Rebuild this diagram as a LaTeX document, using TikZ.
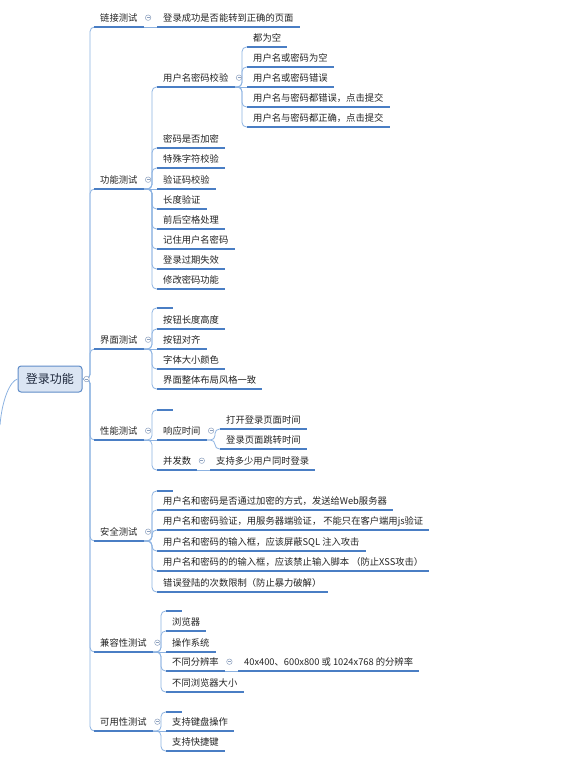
\documentclass[tikz,border=0pt]{standalone}
\usepackage{fontspec}
\newfontfamily\cjk{Noto Sans CJK SC}
\definecolor{ulc}{RGB}{74,126,196}
\definecolor{connc}{RGB}{140,178,225}
\definecolor{cgray}{RGB}{140,160,190}
\definecolor{txt}{RGB}{35,35,35}
\definecolor{rootfill}{RGB}{219,229,243}
\definecolor{rootline}{RGB}{95,140,200}
\definecolor{rtxt}{RGB}{30,40,60}
\begin{document}
\begin{tikzpicture}[x=1pt,y=-1pt,
  topic/.style={font=\cjk\fontsize{9.3}{11}\selectfont, text=txt, anchor=south west,
    inner xsep=6pt, inner ysep=0pt, text height=8pt, text depth=5.8pt},
  stub/.style={topic, minimum width=16pt},
  rootbox/.style={draw=rootline, fill=rootfill, line width=1pt, rounded corners=3pt,
    minimum width=64pt, minimum height=26pt, inner sep=0pt,
    font=\cjk\fontsize{12}{14}\selectfont, text=rtxt},
  conn/.style={draw=connc, line width=0.8pt, rounded corners=4.5pt},
  ulstyle/.style={draw=ulc, line width=1.5pt},
  collapse/.style={circle, draw=cgray, fill=white, line width=0.5pt, minimum size=5.5pt,
    inner sep=0pt, path picture={\draw[cgray, line width=0.5pt]
      ([xshift=-1.5pt]path picture bounding box.center) -- ([xshift=1.5pt]path picture bounding box.center);}}
]
\useasboundingbox (0,0) rectangle (581,764);

% root
\node[rootbox] (root) at (50,379) {登录功能};
\coordinate (offL) at (0,425);

% level 1
\node[topic] (lk) at (94,27) {链接测试};
\node[topic] (fn) at (94,189) {功能测试};
\node[topic] (ui) at (94,349) {界面测试};
\node[topic] (pf) at (94,440) {性能测试};
\node[topic] (sc) at (94,541) {安全测试};
\node[topic] (cp) at (94,652) {兼容性测试};
\node[topic] (us) at (94,731) {可用性测试};

% 链接测试
\node[topic] (lk1) at (157,27) {登录成功是否能转到正确的页面};

% 功能测试
\node[topic] (fn1) at (157,87) {用户名密码校验};
\node[topic] (fn2) at (157,148) {密码是否加密};
\node[topic] (fn3) at (157,168) {特殊字符校验};
\node[topic] (fn4) at (157,189) {验证码校验};
\node[topic] (fn5) at (157,209) {长度验证};
\node[topic] (fn6) at (157,229) {前后空格处理};
\node[topic] (fn7) at (157,249) {记住用户名密码};
\node[topic] (fn8) at (157,269) {登录过期失效};
\node[topic] (fn9) at (157,289) {修改密码功能};

\node[topic] (u1) at (247,47) {都为空};
\node[topic] (u2) at (247,67) {用户名或密码为空};
\node[topic] (u3) at (247,87) {用户名或密码错误};
\node[topic] (u4) at (247,107) {用户名与密码都错误，点击提交};
\node[topic] (u5) at (247,127) {用户名与密码都正确，点击提交};

% 界面测试
\node[stub] (ui0) at (157,308) {};
\node[topic] (ui1) at (157,329) {按钮长度高度};
\node[topic] (ui2) at (157,349) {按钮对齐};
\node[topic] (ui3) at (157,369) {字体大小颜色};
\node[topic] (ui4) at (157,389) {界面整体布局风格一致};

% 性能测试
\node[stub] (pf0) at (157,410) {};
\node[topic] (pf1) at (157,440) {响应时间};
\node[topic] (pf2) at (157,470) {并发数};
\node[topic] (t1) at (220,429) {打开登录页面时间};
\node[topic] (t2) at (220,449) {登录页面跳转时间};
\node[topic] (p21) at (210,470) {支持多少用户同时登录};

% 安全测试
\node[stub] (sc0) at (157,491) {};
\node[topic] (sc1) at (157,510) {用户名和密码是否通过加密的方式，发送给Web服务器};
\node[topic] (sc2) at (157,530) {用户名和密码验证，用服务器端验证， 不能只在客户端用js验证};
\node[topic] (sc3) at (157,551) {用户名和密码的输入框，应该屏蔽SQL 注入攻击};
\node[topic] (sc4) at (157,571) {用户名和密码的的输入框，应该禁止输入脚本 （防止XSS攻击）};
\node[topic] (sc5) at (157,592) {错误登陆的次数限制（防止暴力破解）};

% 兼容性测试
\node[stub] (cp0) at (166,611) {};
\node[topic] (cp1) at (166,631) {浏览器};
\node[topic] (cp2) at (166,652) {操作系统};
\node[topic] (cp3) at (166,671) {不同分辨率};
\node[topic] (cp4) at (166,692) {不同浏览器大小};
\node[topic] (r1) at (238,671) {40x400、600x800 或 1024x768 的分辨率};

% 可用性测试
\node[stub] (us0) at (166,712) {};
\node[topic] (us1) at (166,731) {支持键盘操作};
\node[topic] (us2) at (166,751) {支持快捷键};

% spine coordinates
\coordinate (jR) at (90,379);
\coordinate (jF) at (152,189);
\coordinate (jU) at (242,87);
\coordinate (jI) at (152,349);
\coordinate (jP) at (152,440);
\coordinate (jT) at (215,440);
\coordinate (jS) at (152,541);
\coordinate (jC) at (161,652);
\coordinate (jA) at (161,731);

% connectors
\draw[draw=connc, line width=0.8pt] (root.west) .. controls (10,381) and (2,400) .. (offL);
\foreach \c in {lk,fn,ui,pf,sc,cp,us}
  \draw[conn] (root.east) -- (jR) |- (\c.south west);
\draw[conn] (lk.south east) -- (lk1.south west);
\foreach \c in {fn1,fn2,fn3,fn5,fn6,fn7,fn8,fn9}
  \draw[conn] (fn.south east) -- (jF) |- (\c.south west);
\draw[conn] (fn.south east) -- (fn4.south west);
\foreach \c in {u1,u2,u4,u5}
  \draw[conn] (fn1.south east) -- (jU) |- (\c.south west);
\draw[conn] (fn1.south east) -- (u3.south west);
\foreach \c in {ui0,ui1,ui3,ui4}
  \draw[conn] (ui.south east) -- (jI) |- (\c.south west);
\draw[conn] (ui.south east) -- (ui2.south west);
\foreach \c in {pf0,pf2}
  \draw[conn] (pf.south east) -- (jP) |- (\c.south west);
\draw[conn] (pf.south east) -- (pf1.south west);
\foreach \c in {t1,t2}
  \draw[conn] (pf1.south east) -- (jT) |- (\c.south west);
\draw[conn] (pf2.south east) -- (p21.south west);
\foreach \c in {sc0,sc1,sc2,sc3,sc4,sc5}
  \draw[conn] (sc.south east) -- (jS) |- (\c.south west);
\foreach \c in {cp0,cp1,cp3,cp4}
  \draw[conn] (cp.south east) -- (jC) |- (\c.south west);
\draw[conn] (cp.south east) -- (cp2.south west);
\draw[conn] (cp3.south east) -- (r1.south west);
\foreach \c in {us0,us2}
  \draw[conn] (us.south east) -- (jA) |- (\c.south west);
\draw[conn] (us.south east) -- (us1.south west);

% underlines
\foreach \n in {lk,fn,ui,pf,sc,cp,us,lk1,fn1,fn2,fn3,fn4,fn5,fn6,fn7,fn8,fn9,
  u1,u2,u3,u4,u5,ui0,ui1,ui2,ui3,ui4,pf0,pf1,pf2,t1,t2,p21,
  sc0,sc1,sc2,sc3,sc4,sc5,cp0,cp1,cp2,cp3,cp4,r1,us0,us1,us2}
  \draw[ulstyle] (\n.south west) -- (\n.south east);

% collapse markers
\node[collapse] (xroot) at ([xshift=4pt]root.east) {};
\foreach \n in {lk,fn,fn1,ui,pf,pf1,pf2,sc,cp,cp3,us}
  \node[collapse] (x\n) at ([xshift=4.5pt,yshift=9.3pt]\n.south east) {};
\end{tikzpicture}
\end{document}
